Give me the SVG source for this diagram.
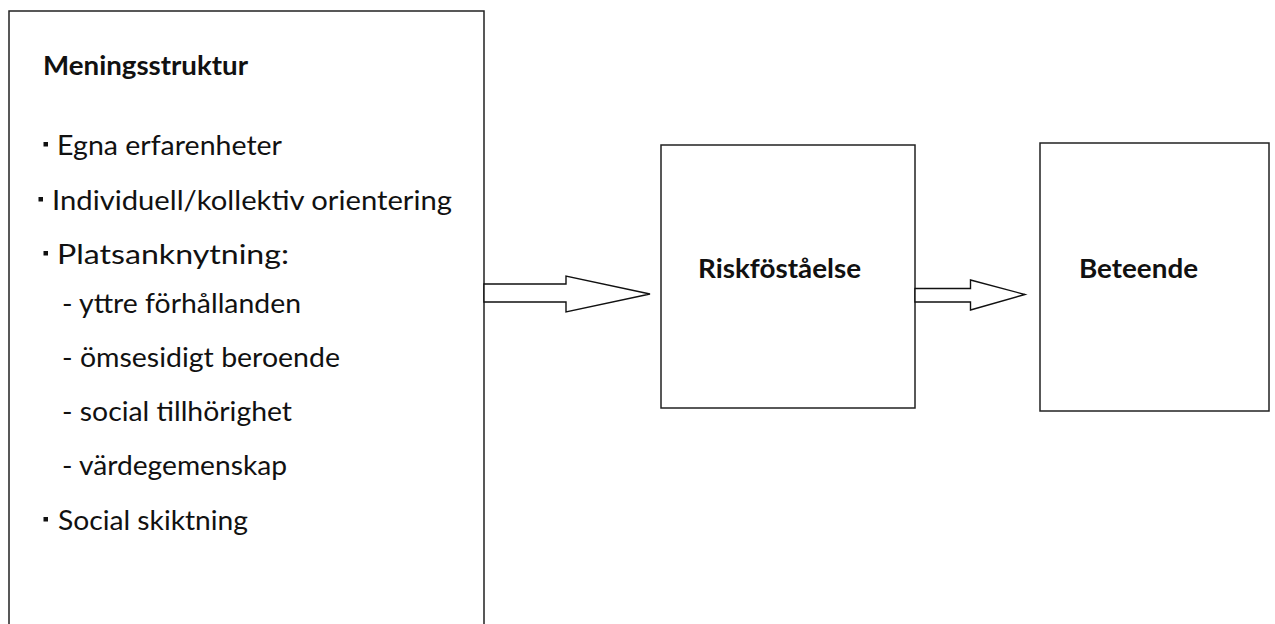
<svg xmlns="http://www.w3.org/2000/svg" width="1275" height="624" viewBox="0 0 1275 624">
<style>
.box{fill:#fff;stroke:#222;stroke-width:1.5}
.t{font-family:Lato,"Open Sans","Liberation Sans",sans-serif;font-size:27px;fill:#111}
.b{font-weight:bold}
.arr{fill:#fff;stroke:#111;stroke-width:1.4;stroke-linejoin:miter}
.bul{fill:#111}
</style>
<rect width="1275" height="624" fill="#fff"/>
<g id="meningsstruktur">
<path class="box" d="M9,626 V11 H484 V626"/>
<text class="t b" x="43" y="75" textLength="205" lengthAdjust="spacingAndGlyphs">Meningsstruktur</text>
<rect class="bul" x="43.5" y="142" width="4.5" height="4.5"/>
<text class="t" x="57" y="155" textLength="225" lengthAdjust="spacingAndGlyphs">Egna erfarenheter</text>
<rect class="bul" x="38.5" y="197" width="4.5" height="4.5"/>
<text class="t" x="52" y="210" textLength="400" lengthAdjust="spacingAndGlyphs">Individuell/kollektiv orientering</text>
<rect class="bul" x="43.5" y="251" width="4.5" height="4.5"/>
<text class="t" x="57" y="264" textLength="232" lengthAdjust="spacingAndGlyphs">Platsanknytning:</text>
<text class="t" x="62" y="313" textLength="239" lengthAdjust="spacingAndGlyphs">- yttre förhållanden</text>
<text class="t" x="62" y="367" textLength="278" lengthAdjust="spacingAndGlyphs">- ömsesidigt beroende</text>
<text class="t" x="62" y="421" textLength="230" lengthAdjust="spacingAndGlyphs">- social tillhörighet</text>
<text class="t" x="62" y="475" textLength="225" lengthAdjust="spacingAndGlyphs">- värdegemenskap</text>
<rect class="bul" x="43.5" y="517" width="4.5" height="4.5"/>
<text class="t" x="58" y="530" textLength="190" lengthAdjust="spacingAndGlyphs">Social skiktning</text>
</g>
<g id="riskforstaelse">
<rect class="box" x="661" y="145" width="254" height="263"/>
<text class="t b" x="698" y="278" textLength="163" lengthAdjust="spacingAndGlyphs">Riskföståelse</text>
</g>
<g id="beteende">
<rect class="box" x="1040" y="143" width="229" height="268"/>
<text class="t b" x="1079" y="278" textLength="119" lengthAdjust="spacingAndGlyphs">Beteende</text>
</g>
<g id="connectors">
<polygon class="arr" points="484,284 566,284 566,276 650,294 566,312 566,302 484,302"/>
<polygon class="arr" points="915,288.5 970.5,288.5 970.5,280 1025,294.5 970.5,310 970.5,302 915,302"/>
</g>
</svg>
